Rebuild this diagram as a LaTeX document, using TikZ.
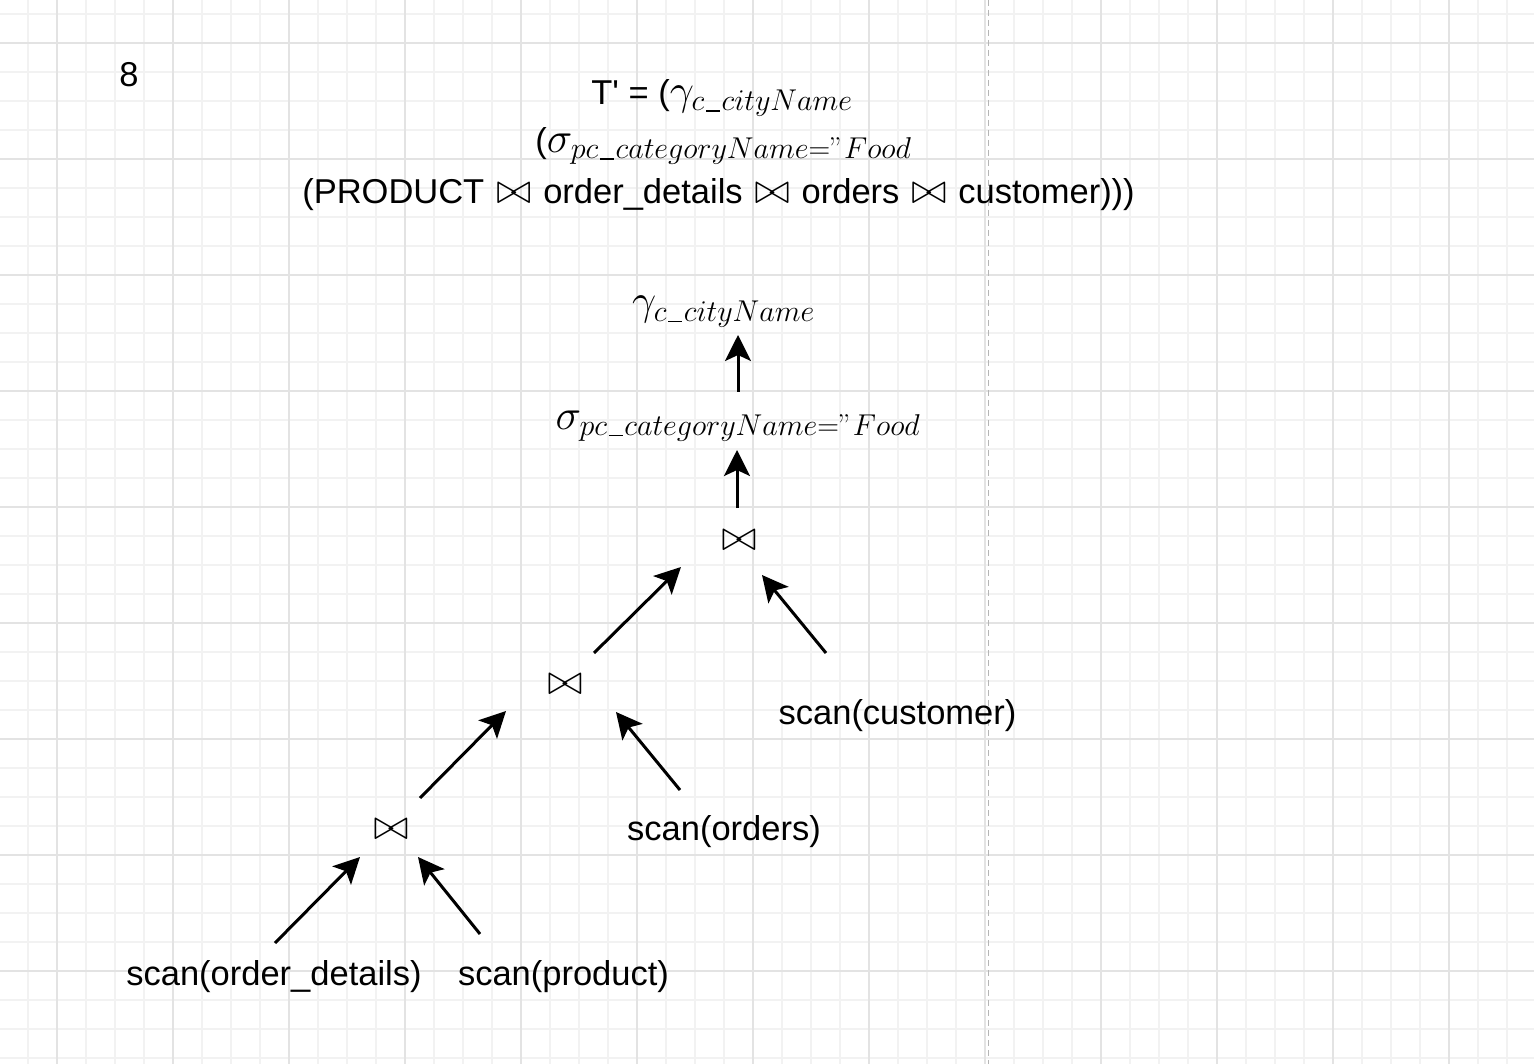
\RequirePackage{fix-cm}
\documentclass[tikz,border=0pt]{standalone}
\usepackage[no-math]{fontspec}
\setmainfont{Liberation Sans}[Ligatures=TeXOff]
\usetikzlibrary{arrows.meta}
\definecolor{gridminor}{HTML}{F2F2F2}
\definecolor{gridmajor}{HTML}{E3E3E3}
\definecolor{dashgray}{HTML}{B5B5B5}
\newcommand{\mth}[1]{{\fontsize{43}{50}\selectfont$#1$}}
\newcommand{\us}{\mkern1mu\rule[-1pt]{14pt}{1.5pt}\mkern1mu}
\newcommand{\bsp}{\hspace{12pt}}
\tikzset{
  txt/.style={font=\fontsize{34.5}{41}\selectfont, inner sep=0pt},
  arr/.style={line width=3pt, -{Stealth[length=26pt, width=26pt, inset=6pt]}},
}
\begin{document}
\begin{tikzpicture}[x=1pt,y=-1pt]
\useasboundingbox (0,0) rectangle (1534,1064);
\fill[white] (0,0) rectangle (1534,1064);
% grid
\foreach \i in {0,...,53} \draw[gridminor, line width=1.2pt] ({-1+29*\i},0) -- ({-1+29*\i},1064);
\foreach \i in {0,...,36} \draw[gridminor, line width=1.2pt] (0,{14+29*\i}) -- (1534,{14+29*\i});
\foreach \i in {0,...,12} \draw[gridmajor, line width=1.4pt] ({57+116*\i},0) -- ({57+116*\i},1064);
\foreach \i in {0,...,8} \draw[gridmajor, line width=1.4pt] (0,{43+116*\i}) -- (1534,{43+116*\i});
\draw[dashgray, line width=1.4pt, dash pattern=on 6pt off 4pt] (988.5,0) -- (988.5,1064);

% header
\node[txt, anchor=base] (num) at (129,87) {8};
\node[txt, anchor=base] (l1) at (722,104.5) {T' = (\mth{\gamma_{c\us cityName}}};
\node[txt, anchor=base] (l2) at (723.5,152.5) {(\mth{\sigma_{pc\us categoryName=\mathchar"0022 Food}}};
\node[txt, anchor=base] (l3) at (718.5,203.5) {(PRODUCT\bsp\mth{\bowtie}\bsp order\_details\bsp\mth{\bowtie}\bsp orders\bsp\mth{\bowtie}\bsp customer)))};

% tree
\node[txt, anchor=base] (g) at (723.5,315) {\mth{\gamma_{c\us cityName}}};
\node[txt, anchor=base] (s) at (738,429) {\mth{\sigma_{pc\us categoryName=\mathchar"0022 Food}}};
\node[txt] (j1) at (739,540) {\mth{\bowtie}};
\node[txt] (j2) at (565,684) {\mth{\bowtie}};
\node[txt] (j3) at (391,829) {\mth{\bowtie}};
\node[txt, anchor=base] (sc) at (897.5,724) {scan(customer)};
\node[txt, anchor=base] (so) at (724,840) {scan(orders)};
\node[txt, anchor=base] (sod) at (274,985) {scan(order\_details)};
\node[txt, anchor=base] (sp) at (563.5,985) {scan(product)};

% connector end points
\coordinate (a1s) at (738,392); \coordinate (a1e) at (738,335);
\coordinate (a2s) at (737,508); \coordinate (a2e) at (737,450);
\coordinate (a3s) at (594,653); \coordinate (a3e) at (681,567);
\coordinate (a4s) at (826,653); \coordinate (a4e) at (762,575);
\coordinate (a5s) at (420,798); \coordinate (a5e) at (506,711);
\coordinate (a6s) at (680,790); \coordinate (a6e) at (616,712);
\coordinate (a7s) at (275,943); \coordinate (a7e) at (360,857);
\coordinate (a8s) at (480,934); \coordinate (a8e) at (418,857);

\draw[arr] (a1s) -- (a1e);
\draw[arr] (a2s) -- (a2e);
\draw[arr] (a3s) -- (a3e);
\draw[arr] (a4s) -- (a4e);
\draw[arr] (a5s) -- (a5e);
\draw[arr] (a6s) -- (a6e);
\draw[arr] (a7s) -- (a7e);
\draw[arr] (a8s) -- (a8e);
\end{tikzpicture}
\end{document}
